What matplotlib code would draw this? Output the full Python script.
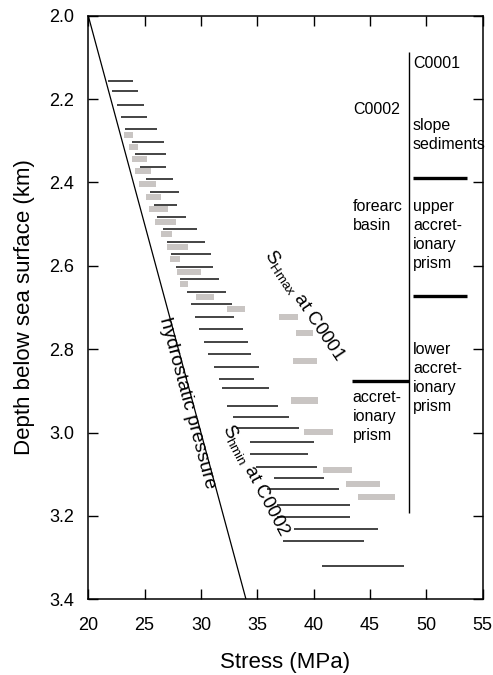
"""Stress vs depth profile: Shmin (C0002) ranges, SHmax (C0001) bars, hydrostat."""
import matplotlib

matplotlib.use("Agg")
import matplotlib.pyplot as plt  # noqa: E402

plt.rcParams["font.family"] = ["Liberation Sans", "DejaVu Sans"]
plt.rcParams["mathtext.default"] = "regular"

# Shmin ranges at C0002: depth (km), min / max stress (MPa)
shmin_depth = [2.156, 2.181, 2.213, 2.242, 2.272, 2.302, 2.332, 2.362, 2.391, 2.422,
               2.453, 2.482, 2.512, 2.542, 2.572, 2.602, 2.632, 2.662, 2.692, 2.722,
               2.752, 2.782, 2.812, 2.842, 2.871, 2.892, 2.936, 2.962, 2.988, 3.023,
               3.051, 3.082, 3.110, 3.135, 3.173, 3.202, 3.231, 3.260, 3.319]
shmin_lo = [21.78, 22.08, 22.58, 22.88, 23.26, 23.85, 24.15, 24.59, 25.10, 25.48,
            25.86, 26.13, 26.66, 26.96, 27.34, 27.76, 28.14, 28.74, 29.15, 29.48,
            29.86, 30.28, 30.66, 31.16, 31.58, 31.85, 32.34, 32.85, 33.09, 34.36,
            34.36, 34.89, 36.49, 35.90, 36.73, 36.79, 38.27, 37.26, 40.75]
shmin_hi = [24.00, 24.39, 24.97, 25.19, 26.10, 26.75, 26.87, 26.87, 27.55, 28.08,
            27.88, 28.68, 29.68, 30.36, 30.87, 31.10, 31.63, 32.20, 32.76, 32.97,
            33.71, 34.21, 34.48, 35.19, 34.69, 36.07, 36.87, 37.85, 38.69, 40.07,
            39.48, 40.28, 40.96, 42.26, 43.27, 43.27, 45.70, 44.48, 48.06]

# SHmax ranges at C0001
shmax_depth = [2.286, 2.315, 2.344, 2.373, 2.404, 2.434, 2.464, 2.494, 2.524, 2.554,
               2.584, 2.614, 2.644, 2.674, 2.704, 2.722, 2.760, 2.828, 2.923, 2.999,
               3.089, 3.124, 3.154]
shmax_lo = [23.21, 23.64, 23.88, 24.15, 24.53, 25.15, 25.42, 25.92, 26.43, 26.96,
            27.26, 27.90, 28.14, 29.54, 32.34, 36.94, 38.42, 38.15, 38.00, 39.13,
            40.84, 42.86, 43.93]
shmax_hi = [23.97, 24.41, 25.19, 25.57, 25.99, 26.46, 27.08, 27.79, 27.41, 28.88,
            28.17, 29.98, 28.88, 31.19, 33.92, 38.60, 39.97, 40.34, 40.43, 41.71,
            43.39, 45.91, 47.18]

# hydrostatic pressure line (stress, depth)
hydro_stress = [20.0, 34.0]
hydro_depth = [2.0, 3.4]

# lithology column
col_x = 48.5
col_depth = [2.086, 3.194]
c0001_bounds = [2.390, 2.672]     # right column unit boundaries
c0001_bx = [48.86, 53.6]
c0002_bounds = [2.876]            # left column unit boundary
c0002_bx = [43.39, 48.5]

fig = plt.figure(figsize=(4.93, 6.75), dpi=100)
ax = fig.add_axes([0.179, 0.1121, 0.8, 0.8646])

ax.plot(hydro_stress, hydro_depth, color="black", lw=0.9)

ax.barh(shmax_depth, [h - l for l, h in zip(shmax_lo, shmax_hi)], left=shmax_lo,
        height=0.0145, color="#c9c5c3", linewidth=0)
ax.hlines(shmin_depth, shmin_lo, shmin_hi, color="#1a1a1a", lw=1.15)

ax.vlines(col_x, col_depth[0], col_depth[1], color="black", lw=1.0)
ax.hlines(c0001_bounds, c0001_bx[0], c0001_bx[1], color="black", lw=2.4)
ax.hlines(c0002_bounds, c0002_bx[0], c0002_bx[1], color="black", lw=2.4)

fs = 11.5
ls = 1.33
ax.text(48.82, 2.114, "C0001", fontsize=fs, ha="left", va="center")
ax.text(43.48, 2.226, "C0002", fontsize=fs, ha="left", va="center")
ax.text(48.82, 2.287, "slope\nsediments", fontsize=fs, ha="left", va="center",
        linespacing=ls)
ax.text(43.48, 2.480, "forearc\nbasin", fontsize=fs, ha="left", va="center",
        linespacing=ls)
ax.text(48.82, 2.526, "upper\naccret-\nionary\nprism", fontsize=fs, ha="left",
        va="center", linespacing=ls)
ax.text(48.82, 2.868, "lower\naccret-\nionary\nprism", fontsize=fs, ha="left",
        va="center", linespacing=ls)
ax.text(43.48, 2.962, "accret-\nionary\nprism", fontsize=fs, ha="left",
        va="center", linespacing=ls)

ax.text(28.75, 2.929, "hydrostatic pressure", fontsize=14, rotation=-74.9,
        rotation_mode="anchor", ha="center", va="center")
ax.text(39.2, 2.695, r"S$_{Hmax}$ at C0001", fontsize=13.5, rotation=-56,
        rotation_mode="anchor", ha="center", va="center")
ax.text(34.85, 3.115, r"S$_{hmin}$ at C0002", fontsize=13.5, rotation=-62,
        rotation_mode="anchor", ha="center", va="center")

ax.set_xlim(20, 55)
ax.set_ylim(3.4, 2.0)
ax.set_xticks(range(20, 56, 5))
ax.set_yticks([2.0, 2.2, 2.4, 2.6, 2.8, 3.0, 3.2, 3.4])
ax.set_yticklabels(["2.0", "2.2", "2.4", "2.6", "2.8", "3.0", "3.2", "3.4"])
ax.tick_params(direction="in", top=True, right=True, length=7, width=1.0,
               labelsize=13, pad=10)
ax.tick_params(axis="x", pad=13)
for sp in ax.spines.values():
    sp.set_linewidth(1.1)

ax.set_xlabel("Stress (MPa)", fontsize=16, labelpad=13)
ax.set_ylabel("Depth below sea surface (km)", fontsize=16, labelpad=10)

fig.savefig("out.png", dpi=100)
